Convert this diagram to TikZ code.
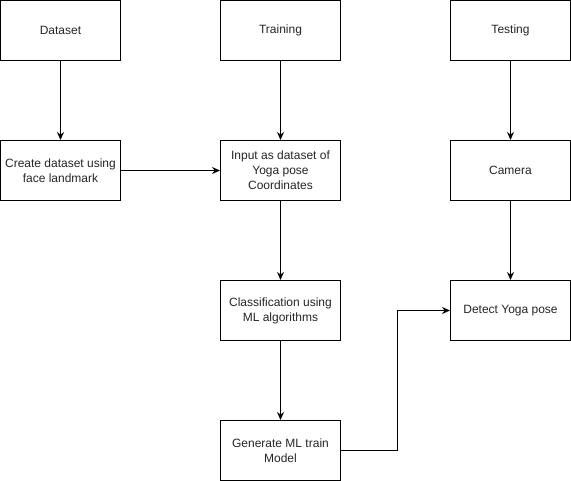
\documentclass[tikz,border=0pt]{standalone}
\usepackage{fontspec}
\setmainfont{Liberation Sans}
\usetikzlibrary{arrows.meta}
\begin{document}
\begin{tikzpicture}[x=1pt,y=-1pt,
  box/.style={draw=black,line width=1pt,minimum width=120pt,minimum height=60pt,inner sep=1pt,align=center,font=\fontsize{12}{15}\selectfont,text=black!85},
  conn/.style={draw=black,line width=1pt,-{Stealth[length=8pt,width=7pt]}}]
\useasboundingbox[fill=white] (0,0) rectangle (571,481);
\node[box] (dataset) at (60.5,30.5) {Dataset};
\node[box] (training) at (280.5,30.5) {Training};
\node[box] (testing) at (510.5,30.5) {Testing};
\node[box] (create) at (60.5,170.5) {Create dataset using\\face landmark};
\node[box] (input) at (280.5,170.5) {Input as dataset of\\Yoga pose\\Coordinates};
\node[box] (camera) at (510.5,170.5) {Camera};
\node[box] (classif) at (280.5,310.5) {Classification using\\ML algorithms};
\node[box] (detect) at (510.5,310.5) {Detect Yoga pose};
\node[box] (generate) at (280.5,450.5) {Generate ML train\\Model};
\draw[conn] (dataset) -- (create);
\draw[conn] (training) -- (input);
\draw[conn] (testing) -- (camera);
\draw[conn] (create) -- (input);
\draw[conn] (input) -- (classif);
\draw[conn] (camera) -- (detect);
\draw[conn] (classif) -- (generate);
\coordinate (elb) at (397.5,310.5);
\draw[conn] (generate.east) -| (elb) -- (detect.west);
\end{tikzpicture}
\end{document}
